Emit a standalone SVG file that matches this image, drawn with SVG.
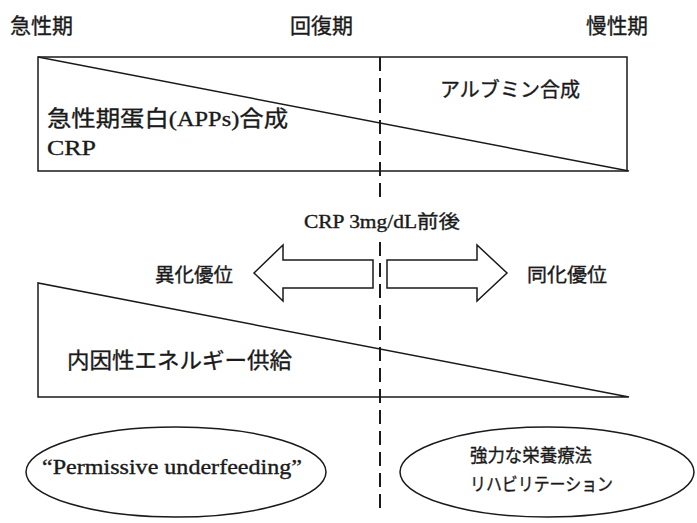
<svg xmlns="http://www.w3.org/2000/svg" width="697" height="523" viewBox="0 0 697 523">
<style>
.ln{fill:none;stroke:#1a1a1a;stroke-width:1.5}
.sh{fill:#fff;stroke:#1a1a1a;stroke-width:1.5;stroke-linejoin:miter}
.dash{fill:none;stroke:#1a1a1a;stroke-width:2;stroke-dasharray:14 7}
.g{font-family:"Noto Sans CJK JP","Noto Sans",sans-serif;fill:#1a1a1a;stroke:#1a1a1a;stroke-width:0.35}
.m{font-family:"Liberation Serif","Noto Sans CJK JP",serif;fill:#1a1a1a;stroke:#1a1a1a;stroke-width:0.35}
</style>
<rect width="697" height="523" fill="#fff"/>
<g id="phase-labels">
<text class="g" x="10" y="33" font-size="21" textLength="63" lengthAdjust="spacingAndGlyphs">急性期</text>
<text class="g" x="290" y="33" font-size="21" textLength="63" lengthAdjust="spacingAndGlyphs">回復期</text>
<text class="g" x="586" y="33" font-size="21" textLength="62" lengthAdjust="spacingAndGlyphs">慢性期</text>
</g>
<g id="protein-synthesis">
<rect class="ln" x="38" y="57" width="589" height="114"/>
<line class="ln" x1="38" y1="57" x2="629" y2="171"/>
<text class="g" x="440" y="97" font-size="20" textLength="140" lengthAdjust="spacingAndGlyphs">アルブミン合成</text>
<text class="m" x="47" y="126" font-size="22" textLength="241" lengthAdjust="spacingAndGlyphs">急性期蛋白(APPs)合成</text>
<text class="m" x="47" y="155" font-size="22" textLength="49" lengthAdjust="spacingAndGlyphs">CRP</text>
</g>
<g id="crp-threshold">
<text class="m" x="304" y="228" font-size="18" textLength="156" lengthAdjust="spacingAndGlyphs">CRP 3mg/dL前後</text>
</g>
<g id="divider">
<line class="dash" x1="380" y1="57" x2="380" y2="203"/>
<line class="dash" x1="380" y1="242" x2="380" y2="512"/>
</g>
<g id="connectors">
<polygon class="sh" points="373,260 283,260 283,245 254,273 283,301 283,288 373,288"/>
<polygon class="sh" points="387,260 477,260 477,245 507,273 477,301 477,288 387,288"/>
</g>
<g id="catabolism">
<text class="g" x="155" y="282" font-size="19" textLength="78" lengthAdjust="spacingAndGlyphs">異化優位</text>
</g>
<g id="anabolism">
<text class="g" x="527" y="282" font-size="19" textLength="80" lengthAdjust="spacingAndGlyphs">同化優位</text>
</g>
<g id="endogenous-energy">
<polygon class="ln" points="38,283 38,397 629,397"/>
<text class="g" x="67" y="368" font-size="22" textLength="225" lengthAdjust="spacingAndGlyphs">内因性エネルギー供給</text>
</g>
<g id="permissive-underfeeding">
<ellipse class="ln" cx="176" cy="472" rx="150" ry="45"/>
<text class="m" x="42" y="474" font-size="21" textLength="260" lengthAdjust="spacingAndGlyphs">“Permissive underfeeding”</text>
</g>
<g id="intensive-nutrition">
<ellipse class="ln" cx="547" cy="472" rx="147" ry="45"/>
<text class="g" x="470" y="462" font-size="18" textLength="122" lengthAdjust="spacingAndGlyphs">強力な栄養療法</text>
<text class="g" x="470" y="491" font-size="18" textLength="143" lengthAdjust="spacingAndGlyphs">リハビリテーション</text>
</g>
</svg>
